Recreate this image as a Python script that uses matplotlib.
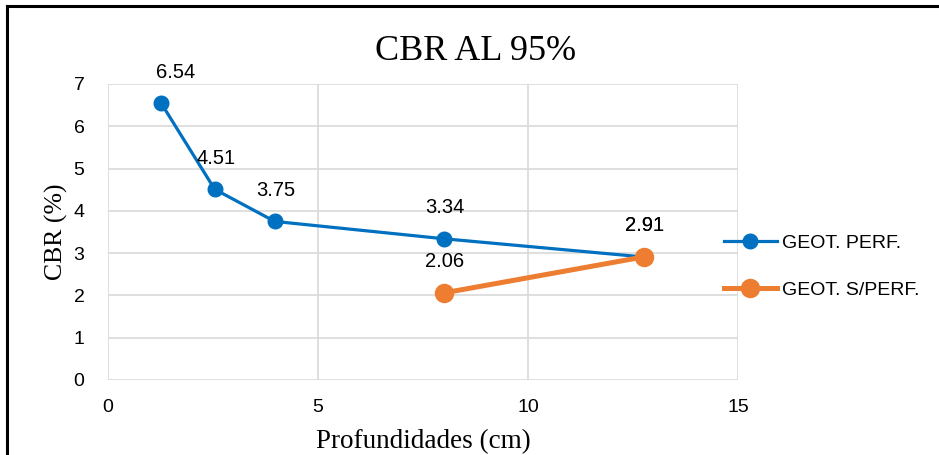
import matplotlib.pyplot as plt
from matplotlib.lines import Line2D

# data
perf_x = [1.27, 2.54, 3.97, 8.0, 12.75]
perf_y = [6.54, 4.51, 3.75, 3.34, 2.91]
sperf_x = [8.0, 12.75]
sperf_y = [2.06, 2.91]
series_names = ["GEOT. PERF.", "GEOT. S/PERF."]
x_ticks = [0, 5, 10, 15]
y_ticks = [0, 1, 2, 3, 4, 5, 6, 7]

blue = "#0070C0"
orange = "#ED7D31"
sans = "Liberation Sans"
serif = "Liberation Serif"

fig = plt.figure(figsize=(9.39, 4.55), dpi=100)
ax = fig.add_axes([108 / 939, 1 - 380 / 455, 630 / 939, 296 / 455])

ax.plot(perf_x, perf_y, color=blue, lw=2.3, marker="o", ms=10.5, label=series_names[0], zorder=3)
ax.plot(sperf_x, sperf_y, color=orange, lw=3.6, marker="o", ms=13, label=series_names[1], zorder=4)

# data labels above the points
for x, y in zip(perf_x, perf_y):
    dx = 14 if x == perf_x[0] else 1
    ax.annotate(f"{y:.2f}", (x, y), xytext=(dx, 31), textcoords="offset pixels",
                ha="center", va="center", fontsize=14.5, family=sans)
for x, y in zip(sperf_x, sperf_y):
    ax.annotate(f"{y:.2f}", (x, y), xytext=(1, 31), textcoords="offset pixels",
                ha="center", va="center", fontsize=14.5, family=sans)

ax.set_xlim(0, 15)
ax.set_ylim(0, 7)
ax.set_xticks(x_ticks)
ax.set_yticks(y_ticks)
ax.grid(True, color="#d9d9d9", lw=1.2)
ax.set_axisbelow(True)
for s in ax.spines.values():
    s.set_visible(False)
ax.tick_params(length=0, labelsize=14)
ax.tick_params(axis="y", pad=17)
ax.tick_params(axis="x", pad=14)
for lab in ax.get_xticklabels() + ax.get_yticklabels():
    lab.set_family(sans)

fig.text(476 / 939, 1 - 51 / 455, "CBR AL 95%", fontsize=26, family=serif,
         ha="center", va="center")
ax.set_xlabel("Profundidades (cm)", fontsize=19.5, family=serif, labelpad=9)
ax.set_ylabel("CBR (%)", fontsize=18.5, family=serif, labelpad=4)

leg = ax.legend(loc="center left", bbox_to_anchor=(0.95, 0.383), frameon=False,
                prop={"family": sans, "size": 14}, handlelength=2.7,
                labelspacing=1.5, handletextpad=0.3)

# outer frame (top and left edges)
fig.add_artist(Line2D([7 / 939, 1], [1 - 6 / 455, 1 - 6 / 455], color="black", lw=2.2,
                      transform=fig.transFigure))
fig.add_artist(Line2D([7 / 939, 7 / 939], [0, 1 - 6 / 455], color="black", lw=2.2,
                      transform=fig.transFigure))

fig.savefig("out.png", dpi=100)
